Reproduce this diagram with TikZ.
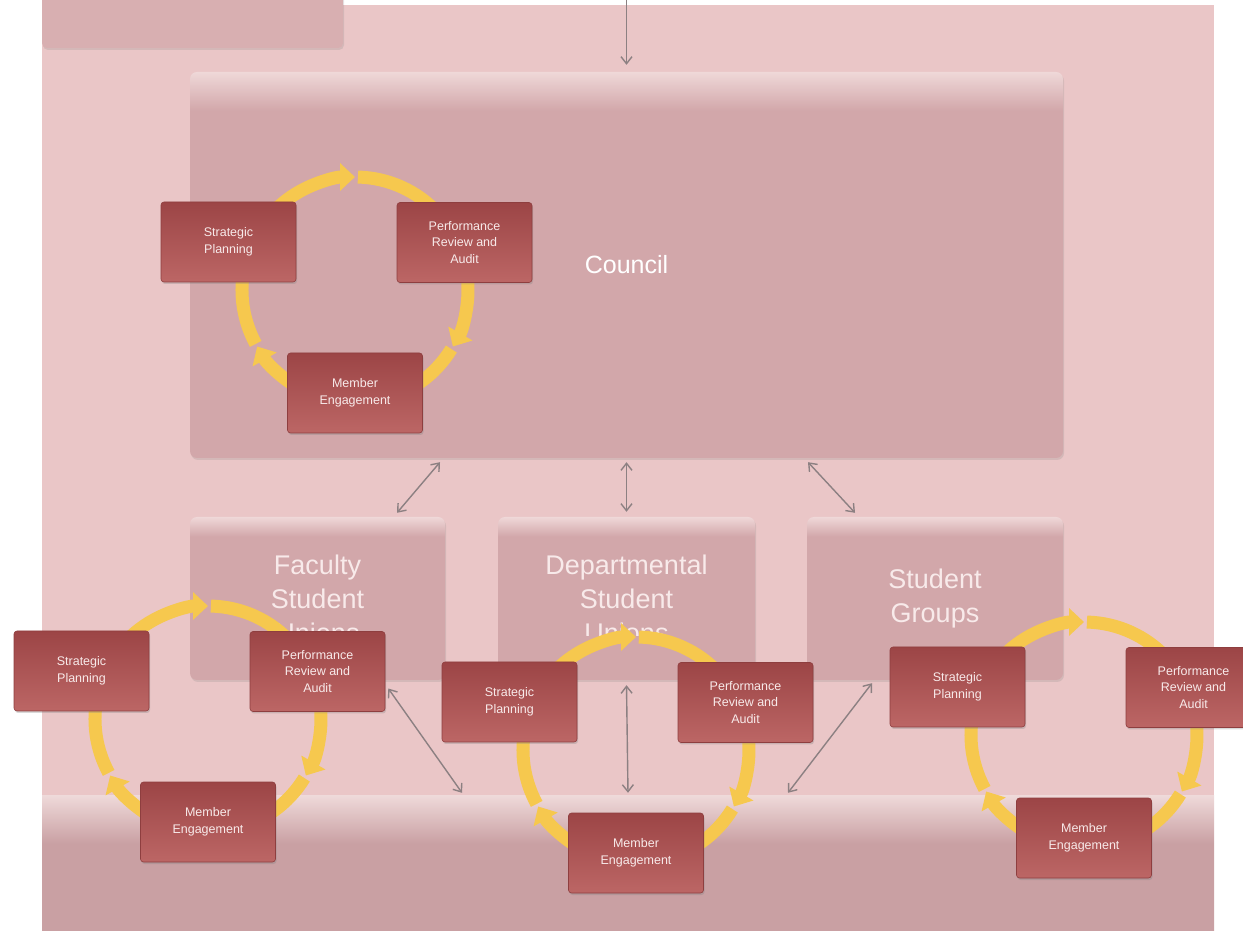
\documentclass[tikz,border=0pt]{standalone}
\usepackage{fontspec}
\setmainfont{Liberation Sans}
\usetikzlibrary{arrows.meta,shadows}

\definecolor{bgpink}{HTML}{EAC6C7}
\definecolor{cornerbox}{HTML}{D8AFB1}
\definecolor{panelbody}{HTML}{D2A7AA}
\definecolor{panelhi}{HTML}{EFD8D8}
\definecolor{bandbody}{HTML}{C9A0A3}
\definecolor{bandhi}{HTML}{EFDADA}
\definecolor{boxtop}{HTML}{9C4546}
\definecolor{boxbot}{HTML}{BC6665}
\definecolor{boxedge}{HTML}{8E3E3F}
\definecolor{boxtext}{HTML}{F8EAEA}
\definecolor{ringyellow}{HTML}{F6C84E}
\definecolor{linkgrey}{HTML}{8C8082}

% light strip at the top of the panels
\pgfdeclareverticalshading{councilshade}{100bp}{color(0bp)=(panelbody); color(70bp)=(panelbody); color(75bp)=(panelhi); color(100bp)=(panelhi)}
\pgfdeclareverticalshading{unitshade}{100bp}{color(0bp)=(panelbody); color(69bp)=(panelbody); color(75bp)=(panelhi); color(100bp)=(panelhi)}
\pgfdeclareverticalshading{bandshade}{100bp}{color(0bp)=(bandbody); color(57bp)=(bandbody); color(75bp)=(bandhi); color(100bp)=(bandhi)}

% one management cycle: #1 = name prefix, #2 = centre of the ring
\newcommand{\mgmtcycle}[2]{%
  \begin{scope}[shift={(#2)}]
    % ring of three arrows
    \draw[ring] (208.5:113) arc[start angle=208.5, end angle=90, radius=113];
    \draw[ring] (88.5:113) arc[start angle=88.5, end angle=-30, radius=113];
    \draw[ring] (-31.5:113) arc[start angle=-31.5, end angle=-150, radius=113];
    % the three steps
    \node[taskbox] (#1sp) at (-126.5,48) {Strategic\\Planning};
    \node[taskbox] (#1pr) at (109.5,47.5) {Performance\\Review and\\Audit};
    \node[taskbox] (#1me) at (0,-103) {Member\\Engagement};
  \end{scope}}

\begin{document}
\begin{tikzpicture}[x=1pt, y=1pt,
  panel/.style={shading=#1, rounded corners=7pt,
    drop shadow={shadow xshift=1pt, shadow yshift=-2pt, opacity=0.2}},
  panel/.default=unitshade,
  bigtext/.style={text=boxtext, align=center, font=\fontsize{27}{34}\selectfont},
  taskbox/.style={top color=boxtop, bottom color=boxbot, draw=boxedge, line width=0.6pt,
    rounded corners=3pt, minimum width=135pt, minimum height=80pt, inner sep=2pt,
    text=boxtext, align=center, font=\fontsize{12.5}{16.5}\selectfont,
    drop shadow={shadow xshift=1pt, shadow yshift=-2pt, opacity=0.3}},
  ring/.style={draw=ringyellow, line width=13pt, -{Triangle[width=27pt, length=15pt]}},
  link/.style={draw=linkgrey, line width=1.4pt,
    {Straight Barb[length=7pt, width=11pt]}-{Straight Barb[length=7pt, width=11pt]}},
  feedlink/.style={draw=linkgrey, line width=1.4pt, -{Straight Barb[length=7pt, width=11pt]}}]

	\useasboundingbox (0,0) rectangle (1243,930);
	\clip (0,0) rectangle (1243,930);

	% background
	\fill[bgpink] (42,0) rectangle (1214,925);

	% box cut off at the top left
	\fill[cornerbox, rounded corners=5pt,
	  drop shadow={shadow xshift=1pt, shadow yshift=-2pt, opacity=0.2}] (42,882) rectangle (343,945);

	% council
	\node[panel=councilshade, minimum width=873pt, minimum height=386pt, text=white,
	  font=\fontsize{25}{30}\selectfont] (council) at (626.5,665) {Council};

	% lower level
	\node[panel, minimum width=255pt, minimum height=163pt] (faculty) at (317.5,331.5) {};
	\node[panel, minimum width=257pt, minimum height=163pt] (dept) at (626.5,331.5) {};
	\node[panel, minimum width=256pt, minimum height=163pt] (groups) at (935,331.5) {};

	\begin{scope}
		\clip (faculty.north west) rectangle ([yshift=-119pt]faculty.north east);
		\node[bigtext] (facultylabel) at (faculty) {Faculty\\Student\\Unions};
	\end{scope}
	\begin{scope}
		\clip (dept.north west) rectangle ([yshift=-119pt]dept.north east);
		\node[bigtext] (deptlabel) at (dept) {Departmental\\Student\\Unions};
	\end{scope}
	\node[bigtext] (groupslabel) at (groups) {Student\\Groups};

	% bottom band
	\node[shading=bandshade, minimum width=1172pt, minimum height=135pt, inner sep=0pt] (base) at (628,67.5) {};

	% cycles
	\mgmtcycle{c1}{355,640}
	\mgmtcycle{c2}{208,211}
	\mgmtcycle{c3}{636,180}
	\mgmtcycle{c4}{1084,195}

	% connectors
	\coordinate (feed) at (626.5,930);
	\draw[feedlink] (feed) -- ([yshift=7pt]council.north);
	\draw[link] ([xshift=-186.5pt, yshift=-4pt]council.south) -- ([xshift=79.5pt, yshift=4pt]faculty.north);
	\draw[link] ([yshift=-4pt]council.south) -- ([yshift=5pt]dept.north);
	\draw[link] ([xshift=181.5pt, yshift=-4pt]council.south) -- ([xshift=-80pt, yshift=4pt]groups.north);
	\draw[link] ([xshift=3pt, yshift=-17pt]c2pr.east) -- ([xshift=-166pt, yshift=2pt]base.north);
	\draw[link] ([yshift=-5pt]dept.south) -- ([yshift=2pt]base.north);
	\draw[link] ([xshift=-63pt, yshift=-3pt]groups.south) -- ([xshift=160pt, yshift=2pt]base.north);

\end{tikzpicture}
\end{document}
